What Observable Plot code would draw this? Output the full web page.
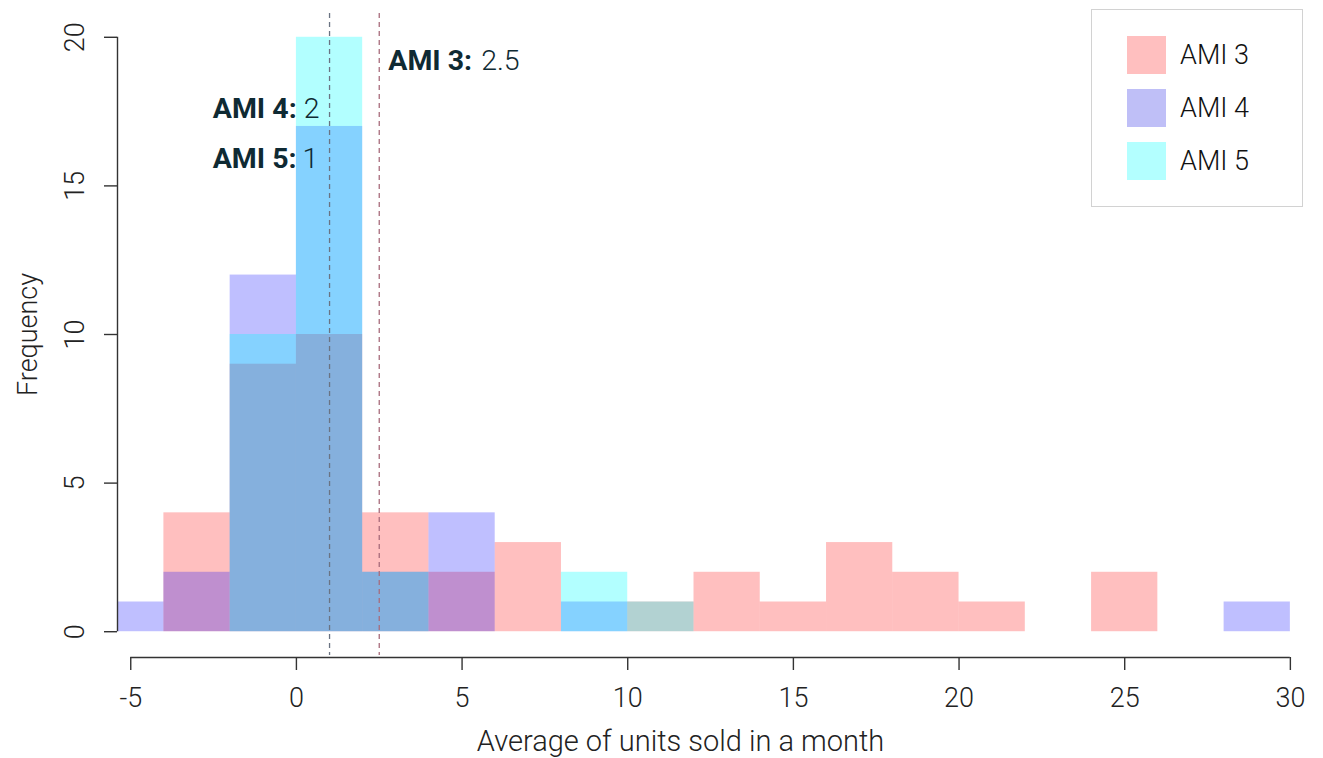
<!DOCTYPE html>
<html>
<head>
<meta charset="utf-8">
<script src="https://cdn.jsdelivr.net/npm/d3@7"></script>
<script src="https://cdn.jsdelivr.net/npm/@observablehq/plot@0.6"></script>
<style>
  body { margin: 0; background: #fff; font-family: Roboto, "Noto Sans", sans-serif; }
  #wrap { position: relative; width: 1323px; height: 758px; overflow: hidden; }
  #legend { position: absolute; left: 1091px; top: 9px; width: 212px; height: 198px; box-sizing: border-box;
            border: 1.5px solid #d2d2d2; background: #fff; }
  .item { position: absolute; left: 35px; height: 38px; display: flex; align-items: center; }
  .sw { width: 39px; height: 38px; margin-right: 14px; }
  .lab { font-size: 27px; font-weight: 300; color: #111; }
</style>
</head>
<body>
<div id="wrap"><div id="legend"></div></div>
<script>
// ---- data ----
const binEdges = [-6, -4, -2, 0, 2, 4, 6, 8, 10, 12, 14, 16, 18, 20, 22, 24, 26, 28, 30];
const seriesNames = ["AMI 3", "AMI 4", "AMI 5"];
const ami3Counts = [0, 4, 9, 10, 4, 2, 3, 0, 1, 2, 1, 3, 2, 1, 0, 2, 0, 0];
const ami4Counts = [1, 2, 12, 17, 2, 4, 0, 1, 0, 0, 0, 0, 0, 0, 0, 0, 0, 1];
const ami5Counts = [0, 0, 10, 20, 2, 0, 0, 2, 1, 0, 0, 0, 0, 0, 0, 0, 0, 0];
const medianValues = [2.5, 2, 1];
const medianLineValues = [1, 2.5];
const xTicks = [-5, 0, 5, 10, 15, 20, 25, 30];
const yTicks = [0, 5, 10, 15, 20];
const xLabel = "Average of units sold in a month";
const yLabel = "Frequency";

// ---- styles ----
const fills = ["rgb(255,0,0)", "rgb(0,0,255)", "rgb(0,255,255)"];
const opacities = [0.25, 0.25, 0.3];
const legendColors = ["#ffbfbf", "#bfbff7", "#b3ffff"];
const lineColors = ["#6a7383", "#a86c7c"];
const ink = "#0f2a33";

const xDomain = [-5.4, 31.0];
const yDomain = [-0.8, 20.8];

const countsBySeries = [ami3Counts, ami4Counts, ami5Counts];
const rowsFor = (counts, s) => counts.map((c, i) => ({series: s, x1: binEdges[i], x2: binEdges[i + 1], count: c}))
  .filter(d => d.count > 0);

const histMarks = countsBySeries.map((counts, k) =>
  Plot.rect(rowsFor(counts, seriesNames[k]), {
    x1: "x1", x2: "x2", y1: 0, y2: "count",
    fill: fills[k], fillOpacity: opacities[k], clip: true
  })
);

const lineMarks = medianLineValues.map((v, k) =>
  Plot.ruleX([v], {stroke: lineColors[k], strokeWidth: 1.3, strokeDasharray: "5,4"})
);

// annotation labels: [bold part, light part], y position and offsets
const annot = [
  {i: 0, y: 19.2, boldAnchor: "start", boldDx: 9, valDx: 102},
  {i: 1, y: 17.6, boldAnchor: "end", boldDx: -66, valDx: -59},
  {i: 2, y: 15.9, boldAnchor: "end", boldDx: -33, valDx: -27}
];
const annotMarks = annot.flatMap(a => [
  Plot.text([a.i], {x: i => medianValues[i], y: () => a.y, text: i => seriesNames[i] + ":",
    textAnchor: a.boldAnchor, dx: a.boldDx, lineAnchor: "middle",
    fontSize: 28.5, fontWeight: "bold", fill: ink}),
  Plot.text([a.i], {x: i => medianValues[i], y: () => a.y, text: i => String(medianValues[i]),
    textAnchor: "start", dx: a.valDx, lineAnchor: "middle",
    fontSize: 28.5, fontWeight: 300, fill: ink})
]);

const chart = Plot.plot({
  width: 1323, height: 758,
  marginLeft: 117, marginRight: 0, marginTop: 13, marginBottom: 103,
  style: {fontFamily: "Roboto, 'Noto Sans', sans-serif", background: "white", color: "#222", overflow: "visible"},
  x: {domain: xDomain},
  y: {domain: yDomain},
  marks: [
    ...histMarks,
    ...lineMarks,
    Plot.ruleY([yDomain[0]], {x1: xTicks[0], x2: xTicks[xTicks.length - 1], dy: 2, stroke: "#333", strokeWidth: 1.4}),
    Plot.ruleX([xDomain[0]], {y1: yTicks[0], y2: yTicks[yTicks.length - 1], stroke: "#333", strokeWidth: 1.4}),
    Plot.axisX({ticks: xTicks, tickSize: 13, tickPadding: 17, dy: 2, tickFormat: d => String(d),
      fontSize: 27, fontWeight: 300, stroke: "#333", strokeWidth: 1.4, fill: "#222", label: null}),
    Plot.axisY({ticks: yTicks, tickSize: 13, tickRotate: -90, tickPadding: 21, tickFormat: d => String(d),
      fontSize: 27, fontWeight: 300, stroke: "#333", strokeWidth: 1.4, fill: "#222", label: null}),
    Plot.text([xLabel], {frameAnchor: "bottom", dx: -40, dy: 86, text: d => d, lineAnchor: "middle",
      textAnchor: "middle", fontSize: 29, fontWeight: 300, fill: "#222"}),
    Plot.text([yLabel], {frameAnchor: "left", dx: -89, rotate: -90, text: d => d, lineAnchor: "middle",
      textAnchor: "middle", fontSize: 27, fontWeight: 300, fill: "#222"}),
    ...annotMarks
  ]
});
document.getElementById("wrap").prepend(chart);

// legend (inside the plot area, top-right)
const legend = document.getElementById("legend");
const rowTops = [26, 79, 132];
seriesNames.forEach((name, k) => {
  const item = document.createElement("div");
  item.className = "item";
  item.style.top = rowTops[k] + "px";
  item.innerHTML = `<div class="sw" style="background:${legendColors[k]}"></div><span class="lab">${name}</span>`;
  legend.appendChild(item);
});
</script>
</body>
</html>
